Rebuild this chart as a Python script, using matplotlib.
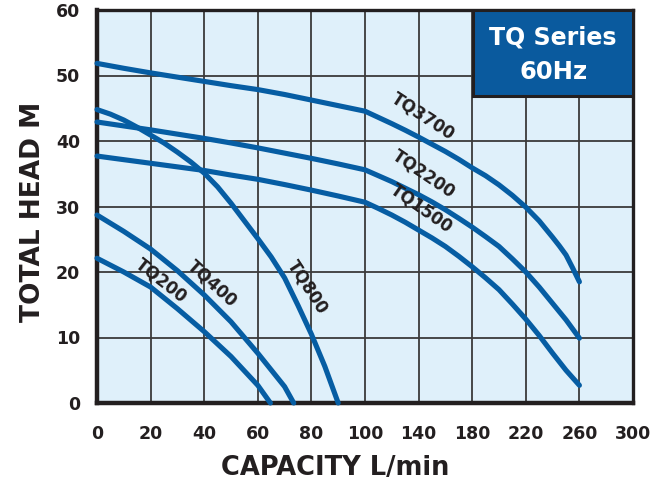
import numpy as np
import matplotlib
matplotlib.use('Agg')
import matplotlib.pyplot as plt
from matplotlib.patches import Rectangle

# x ticks are not evenly spaced in L/min: 20 steps up to 100, then 40 steps
x_ticks = [0, 20, 40, 60, 80, 100, 140, 180, 220, 260, 300]
y_ticks = [0, 10, 20, 30, 40, 50, 60]

# pump curves (capacity L/min, head m)
tq200_x = [0, 10, 20, 30, 40, 50, 60, 64.7]
tq200_y = [22.1, 20.0, 17.7, 14.4, 10.9, 7.1, 2.7, 0]

tq400_x = [0, 10, 20, 30, 40, 50, 60, 70, 73.4]
tq400_y = [28.7, 26.2, 23.5, 20.2, 16.5, 12.4, 7.6, 2.5, 0]

tq800_x = [0, 5, 10, 15, 20, 25, 30, 35, 40, 45, 50, 55, 60, 65, 70, 75, 80, 85, 90]
tq800_y = [44.8, 44.1, 43.2, 42.1, 40.9, 39.7, 38.3, 36.8, 35.1, 33.0, 30.5, 27.8,
           25.1, 22.3, 19.1, 14.9, 10.5, 5.6, 0]

tq1500_x = [0, 10, 20, 30, 40, 50, 60, 70, 80, 90, 100, 110, 120, 130, 140, 150,
            160, 170, 180, 190, 200, 210, 220, 230, 240, 250, 260]
tq1500_y = [37.7, 37.15, 36.6, 36.05, 35.5, 34.8, 34.15, 33.35, 32.5, 31.6, 30.65,
            29.7, 28.7, 27.6, 26.4, 25.2, 23.9, 22.4, 20.8, 19.1, 17.3, 15.1, 12.8,
            10.3, 7.6, 5.0, 2.7]

tq2200_x = [0, 10, 20, 30, 40, 50, 60, 70, 80, 90, 100, 110, 120, 130, 140, 150,
            160, 170, 180, 190, 200, 210, 220, 230, 240, 250, 260]
tq2200_y = [42.9, 42.3, 41.7, 41.05, 40.4, 39.7, 38.95, 38.15, 37.35, 36.5, 35.6,
            34.7, 33.8, 32.8, 31.8, 30.7, 29.5, 28.2, 26.85, 25.4, 23.9, 22.0, 20.0,
            17.7, 15.2, 12.7, 9.9]

tq3700_x = [0, 10, 20, 30, 40, 50, 60, 70, 80, 90, 100, 110, 120, 130, 140, 150,
            160, 170, 180, 190, 200, 210, 220, 230, 240, 245, 250, 255, 260]
tq3700_y = [51.85, 51.1, 50.4, 49.75, 49.1, 48.45, 47.85, 47.1, 46.25, 45.4, 44.55,
            43.6, 42.65, 41.65, 40.6, 39.5, 38.4, 37.2, 35.9, 34.7, 33.3, 31.7, 29.9,
            27.8, 25.3, 24.0, 22.6, 20.6, 18.5]

# label name, x, y, angle
labels = [
    ('TQ200', 23.9, 18.7, -38),
    ('TQ400', 43.2, 18.3, -42),
    ('TQ800', 78.7, 17.7, -57),
    ('TQ1500', 142.2, 29.7, -35),
    ('TQ2200', 143.7, 35.0, -34),
    ('TQ3700', 143.0, 43.7, -33),
]

tick_pos = np.arange(len(x_ticks))


def fwd(v):
    return np.interp(v, x_ticks, tick_pos)


def inv(v):
    return np.interp(v, tick_pos, x_ticks)


dark = '#231f20'
blue = '#065da3'

fig = plt.figure(figsize=(6.65, 4.88), dpi=100)
ax = fig.add_axes([97 / 665, 85 / 488, 536 / 665, 393 / 488])
ax.set_xscale('function', functions=(fwd, inv))
ax.set_xlim(0, 300)
ax.set_ylim(0, 60)
ax.set_facecolor('#dff0fa')

ax.set_xticks(x_ticks)
ax.set_yticks(y_ticks)
ax.xaxis.set_minor_locator(matplotlib.ticker.NullLocator())
ax.grid(True, color='#3a3a3a', linewidth=1.3)
ax.set_axisbelow(True)
ax.tick_params(length=0, labelsize=12.5, labelcolor=dark)
ax.tick_params(axis='x', pad=16)
ax.tick_params(axis='y', pad=12)
for lab in ax.get_xticklabels() + ax.get_yticklabels():
    lab.set_fontweight('bold')

for side in ['top', 'right']:
    ax.spines[side].set_linewidth(2.4)
    ax.spines[side].set_color(dark)
for side in ['left', 'bottom']:
    ax.spines[side].set_linewidth(3.2)
    ax.spines[side].set_color(dark)

for xs, ys in [(tq200_x, tq200_y), (tq400_x, tq400_y), (tq800_x, tq800_y),
               (tq1500_x, tq1500_y), (tq2200_x, tq2200_y), (tq3700_x, tq3700_y)]:
    ax.plot(xs, ys, color=blue, linewidth=3.7, solid_capstyle='round',
            solid_joinstyle='round', clip_on=False, zorder=3)

for name, lx, ly, ang in labels:
    ax.text(lx, ly, name, rotation=ang, rotation_mode='anchor', ha='center',
            va='center', fontsize=12, fontweight='bold', color=dark, zorder=4)

# title box
ax.add_patch(Rectangle((0.7015, 0.781), 0.2985, 0.219, transform=ax.transAxes,
                       facecolor='#0a5a9e', edgecolor=dark, linewidth=2.2, zorder=5))
ax.text(0.851, 0.93, 'TQ Series', transform=ax.transAxes, ha='center', va='center',
        fontsize=17, fontweight='bold', color='white', zorder=6)
ax.text(0.851, 0.842, '60Hz', transform=ax.transAxes, ha='center', va='center',
        fontsize=17.5, fontweight='bold', color='white', zorder=6)

fig.text(335 / 665, 1 - 468 / 488, 'CAPACITY L/min', ha='center', va='center',
         fontsize=18.5, fontweight='bold', color=dark)
fig.text(33 / 665, 1 - 212 / 488, 'TOTAL HEAD M', ha='center', va='center',
         rotation=90, fontsize=19, fontweight='bold', color=dark)

fig.savefig('out.png', dpi=100)
